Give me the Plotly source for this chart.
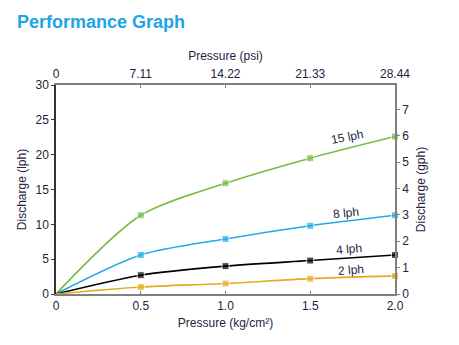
import plotly.graph_objects as go

pressure_kg = [0, 0.5, 1.0, 1.5, 2.0]
psi_ticks = [0, 7.11, 14.22, 21.33, 28.44]
series_names = ["15 lph", "8 lph", "4 lph", "2 lph"]
flow_15 = [0, 11.3, 15.9, 19.5, 22.6]
flow_8 = [0, 5.6, 7.9, 9.8, 11.3]
flow_4 = [0, 2.7, 4.0, 4.8, 5.6]
flow_2 = [0, 1.0, 1.5, 2.2, 2.6]
colors = ["#76bc43", "#22aae6", "#000000", "#e3aa1e"]
LPH_PER_GPH = 3.785

fig = go.Figure()
for name, ys, c in zip(series_names, [flow_15, flow_8, flow_4, flow_2], colors):
    fig.add_trace(go.Scatter(
        x=pressure_kg, y=ys, mode="lines+markers", name=name,
        line=dict(color=c, width=1.6, shape="spline", smoothing=0.8),
        marker=dict(symbol="square", size=[0, 7, 7, 7, 7], color=c),
        showlegend=False, cliponaxis=False))

# invisible traces to activate secondary axes
fig.add_trace(go.Scatter(x=[0], y=[0], xaxis="x2", yaxis="y", mode="markers",
                         marker=dict(opacity=0), showlegend=False, hoverinfo="skip"))
fig.add_trace(go.Scatter(x=[0], y=[0], xaxis="x", yaxis="y2", mode="markers",
                         marker=dict(opacity=0), showlegend=False, hoverinfo="skip"))

txt = "#1f2340"
font = dict(family="Liberation Sans, Arial, sans-serif", size=12, color=txt)
fig.update_layout(
    width=459, height=345,
    margin=dict(l=56, r=64, t=85, b=51),
    plot_bgcolor="white", paper_bgcolor="white",
    font=font,
    xaxis=dict(range=[0, 2.0], tickvals=pressure_kg, ticktext=["0", "0.5", "1.0", "1.5", "2.0"],
               ticks="inside", ticklen=3, tickcolor="#808080",
               showline=True, linecolor="#808080", linewidth=1.5, showgrid=False, zeroline=False,
               title=dict(text="Pressure (kg/cm²)", standoff=6, font=font)),
    xaxis2=dict(range=[0, 28.44], tickvals=psi_ticks, ticktext=["0", "7.11", "14.22", "21.33", "28.44"],
                overlaying="x", side="top", anchor="y",
                ticks="inside", ticklen=3, tickcolor="#808080",
                showline=True, linecolor="#808080", linewidth=1.5, showgrid=False, zeroline=False,
                title=dict(text="Pressure (psi)", standoff=4, font=font)),
    yaxis=dict(range=[0, 30], tickvals=[0, 5, 10, 15, 20, 25, 30],
               ticks="outside", ticklen=3, tickcolor="#333333",
               showline=True, linecolor="#333333", linewidth=1.5, showgrid=False, zeroline=False,
               title=dict(text="Discharge (lph)", standoff=6, font=font)),
    yaxis2=dict(range=[0, 30 / LPH_PER_GPH], tickvals=[0, 1, 2, 3, 4, 5, 6, 7],
                overlaying="y", side="right", anchor="x",
                ticks="outside", ticklen=3, tickcolor="#808080",
                showline=True, linecolor="#808080", linewidth=1.5, showgrid=False, zeroline=False,
                title=dict(text="Discharge (gph)", standoff=8, font=font)),
)

fig.add_annotation(text="<b>Performance Graph</b>", xref="paper", yref="paper",
                   x=-0.121, y=1.30, xanchor="left", yanchor="middle", showarrow=False,
                   font=dict(family="Liberation Sans, Arial, sans-serif", size=18, color="#1ba6e8"))

labels = [(1.72, 22.5, -11), (1.71, 11.6, -6), (1.73, 6.5, -5), (1.74, 3.4, -4)]
for name, (lx, ly, ang) in zip(series_names, labels):
    fig.add_annotation(text=name, x=lx, y=ly, showarrow=False, textangle=ang,
                       font=dict(family="Liberation Sans, Arial, sans-serif", size=12, color=txt))

fig.write_html("out.html")
